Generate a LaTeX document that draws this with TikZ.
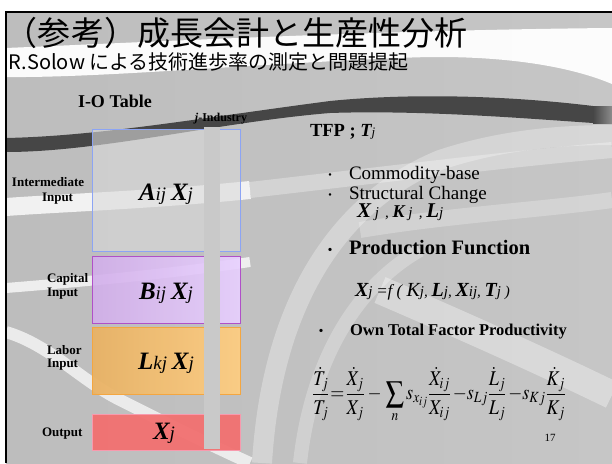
\documentclass[tikz,border=0pt]{standalone}
\usepackage{mathptmx}
\usepackage{fontspec}
\setmainfont{Liberation Serif}
\newfontfamily\cjk{Noto Sans CJK JP}
\usepackage{graphicx}
\definecolor{bgL}{HTML}{BDBDBD}
\definecolor{bgM}{HTML}{E6E6E6}
\definecolor{bgR}{HTML}{C6C6C6}
\definecolor{darkband}{HTML}{464646}
\definecolor{intfill}{HTML}{DADADA}
\definecolor{intdraw}{HTML}{8CA4F4}
\definecolor{capL}{HTML}{D2AEEA}
\definecolor{capR}{HTML}{E8D0FF}
\definecolor{capdraw}{HTML}{B050C8}
\definecolor{labL}{HTML}{E9B264}
\definecolor{labR}{HTML}{FDCD82}
\definecolor{labdraw}{HTML}{F4A640}
\definecolor{outfill}{HTML}{F27070}
\definecolor{outdraw}{HTML}{F89AAE}
\definecolor{barcol}{HTML}{C9C9C9}
\tikzset{
  swoosh/.style={white, line cap=butt},
  iobox/.style={anchor=north west, line width=0.8pt, inner sep=0pt, text opacity=1},
  lbl/.style={anchor=west, font=\fontsize{13}{15}\selectfont\bfseries},
  bodytxt/.style={anchor=west, font=\fontsize{19}{22}\selectfont},
}
\begin{document}
\begin{tikzpicture}[x=1pt,y=-1pt, every node/.style={inner sep=0pt, outer sep=0pt}]
\useasboundingbox (0,0) rectangle (612,463);
\fill[white] (0,0) rectangle (612,463);
% slide background
\shade[left color=bgL, middle color=bgM, right color=bgR] (6,12) rectangle (612,463);
% top white band
\fill[white, opacity=0.95] (6,48) .. controls (150,42) and (380,30) .. (612,28) -- (612,84) .. controls (560,62) and (480,54) .. (400,58) .. controls (250,64) and (100,78) .. (6,77) -- cycle;
% light swooshes
\draw[swoosh, opacity=0.8, line width=18] (6,207) .. controls (60,203) and (150,200) .. (250,190);
\draw[swoosh, opacity=0.3, line width=16] (250,190) .. controls (380,175) and (500,160) .. (612,150);
\draw[swoosh, opacity=0.75, line width=10] (6,288) .. controls (80,282) and (160,275) .. (250,262);
\draw[swoosh, opacity=0.7, line width=12] (6,332) .. controls (50,345) and (80,380) .. (120,400) .. controls (170,425) and (210,445) .. (250,463);
\draw[swoosh, opacity=0.3, line width=20] (262,463) .. controls (270,330) and (320,210) .. (440,160) .. controls (500,140) and (560,135) .. (612,135);
\draw[swoosh, opacity=0.25, line width=14] (300,463) .. controls (310,370) and (350,290) .. (420,250);
\draw[swoosh, opacity=0.35, line width=28] (380,290) .. controls (450,320) and (540,360) .. (612,395);
\draw[swoosh, opacity=0.25, line width=16] (360,230) .. controls (450,215) and (540,210) .. (612,200);
% dark band
\fill[darkband] (6,138) .. controls (100,136) and (200,118) .. (330,101) .. controls (420,92) and (520,97) .. (593,106) -- (593,123) .. controls (520,118) and (420,110) .. (330,113) .. controls (220,122) and (100,152) .. (6,152) -- cycle;
\shade[left color=darkband, middle color=gray!40, right color=gray!90] (593,106) rectangle (612,123);
% frame lines
\draw[line width=2pt] (6,463) -- (6,11.5) -- (612,11.5);
% titles
\node[anchor=west] (title) at (5,33) {\cjk\fontsize{33}{36}\selectfont （参考）成長会計と生産性分析};
\node[anchor=west] (subtitle) at (9,62) {\cjk\fontsize{20}{23}\selectfont R.Solow による技術進歩率の測定と問題提起};
% I-O table
\node[anchor=west, font=\fontsize{18}{20}\selectfont\bfseries] (iot) at (78,101) {I-O Table};
\node[iobox, fill=intfill, fill opacity=0.6, draw=intdraw, minimum width=148pt, minimum height=122pt] (A) at (92,129) {};
\node[iobox, left color=capL, right color=capR, fill opacity=0.9, draw=capdraw, minimum width=148pt, minimum height=67pt] (B) at (92,256) {};
\node[iobox, left color=labL, right color=labR, fill opacity=0.95, draw=labdraw, minimum width=148pt, minimum height=67pt] (L) at (92,327) {};
\node[iobox, fill=outfill, fill opacity=0.95, draw=outdraw, minimum width=148pt, minimum height=36pt] (X) at (92,414) {};
\node (Atxt) at (166,194) {\fontsize{25}{28}\selectfont\bfseries\itshape A\mdseries\fontsize{19}{22}\selectfont ij \fontsize{25}{28}\selectfont\bfseries X\mdseries\fontsize{19}{22}\selectfont j};
\node (Btxt) at (166,293) {\fontsize{25}{28}\selectfont\bfseries\itshape B\mdseries\fontsize{19}{22}\selectfont ij \fontsize{25}{28}\selectfont\bfseries X\mdseries\fontsize{19}{22}\selectfont j};
\node (Ltxt) at (166,363) {\fontsize{25}{28}\selectfont\bfseries\itshape L\mdseries\fontsize{19}{22}\selectfont kj \fontsize{25}{28}\selectfont\bfseries X\mdseries\fontsize{19}{22}\selectfont j};
\node (Xtxt) at (164,433) {\fontsize{25}{28}\selectfont\bfseries\itshape X\mdseries\fontsize{19}{22}\selectfont j};
% industry bar
\fill[barcol] (204,127) rectangle (220,449);
\node[font=\fontsize{12}{14}\selectfont\bfseries] (ind) at (221,119) {\itshape j\upshape -Industry};
% left labels
\node[lbl] (lint1) at (12,182) {Intermediate};
\node[lbl] (lint2) at (42,199) {Input};
\node[lbl] (lcap1) at (47,279) {Capital};
\node[lbl] (lcap2) at (47,294) {Input};
\node[lbl] (llab1) at (47,350) {Labor};
\node[lbl] (llab2) at (47,365) {Input};
\node[lbl] (lout) at (42,434) {Output};
% right column
\node[anchor=west, font=\fontsize{18.5}{21}\selectfont\bfseries] (tfp) at (310,132) {TFP ; \itshape T\mdseries\fontsize{13}{15}\selectfont j};
\node[bodytxt] (b1) at (324,175) {\makebox[25pt][l]{\cjk\fontsize{12}{14}\selectfont ・}Commodity-base};
\node[bodytxt] (b2) at (324,195) {\makebox[25pt][l]{\cjk\fontsize{12}{14}\selectfont ・}Structural Change};
\node[anchor=west, font=\fontsize{21}{24}\selectfont\bfseries\itshape] (xkl) at (357,212) {X\mdseries\fontsize{15}{17}\selectfont\ j\, , \bfseries\fontsize{18}{21}\selectfont K\mdseries\fontsize{15}{17}\selectfont\ j\, , \bfseries\fontsize{21}{24}\selectfont L\mdseries\fontsize{15}{17}\selectfont j};
\node[anchor=west, font=\fontsize{20.5}{23}\selectfont\bfseries] (b3) at (324,248) {\makebox[25pt][l]{\cjk\fontsize{12}{14}\selectfont ・}Production Function};
\node[anchor=west, font=\fontsize{20}{23}\selectfont\itshape] (pf) at (355,292) {\bfseries X\mdseries\fontsize{15}{17}\selectfont j \fontsize{17}{20}\selectfont =f ( \fontsize{20}{23}\selectfont K\fontsize{15}{17}\selectfont j, \bfseries\fontsize{20}{23}\selectfont L\mdseries\fontsize{15}{17}\selectfont j, \bfseries\fontsize{20}{23}\selectfont X\mdseries\fontsize{15}{17}\selectfont ij, \bfseries\fontsize{20}{23}\selectfont T\mdseries\fontsize{15}{17}\selectfont j )};
\node[anchor=west, font=\fontsize{16.5}{19}\selectfont\bfseries] (b4) at (315,332) {\makebox[35pt][l]{\cjk\fontsize{12}{14}\selectfont ・}Own Total Factor Productivity};
\node (eq) at (439,395) {\scalebox{0.86}[1]{\fontsize{21}{25}\selectfont $\displaystyle \frac{\dot{T}_j}{T_j}\mskip1mu{=}\mskip1mu\frac{\dot{X}_j}{X_j}\mskip3mu{-}\mskip2mu\sum_n s_{x_{ij}}\frac{\dot{X}_{ij}}{X_{ij}}\mskip2mu{-}s_{Lj}\frac{\dot{L}_j}{L_j}\mskip2mu{-}s_{Kj}\frac{\dot{K}_j}{K_j}$}};
\node[font=\fontsize{11}{13}\selectfont] (pg) at (550,438) {17};
\end{tikzpicture}
\end{document}
